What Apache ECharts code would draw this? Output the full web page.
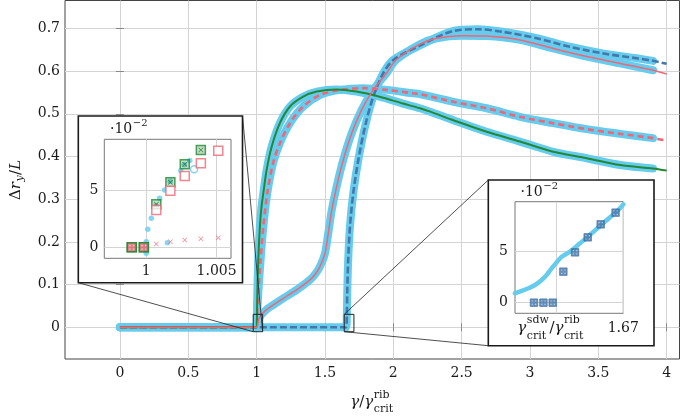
<!DOCTYPE html>
<html><head><meta charset="utf-8">
<script src="https://cdn.jsdelivr.net/npm/echarts@6.0.0/dist/echarts.min.js"></script>
<style>html,body{margin:0;padding:0;background:#fff;}#chart{width:681px;height:418px;}</style>
</head><body><div id="chart"></div>
<script>
// ---------- tick values ----------
const xTickValues = [0, 0.5, 1, 1.5, 2, 2.5, 3, 3.5, 4];
const yTickValues = [0, 0.1, 0.2, 0.3, 0.4, 0.5, 0.6, 0.7];
const leftInsetXTicks = [1, 1.005];
const leftInsetYTicks = [0, 5];
const sdwRatio = 1.6623;
const rightInsetXTicks = [sdwRatio, 1.67];
const rightInsetXLabels = [1.67];
const rightInsetYTicks = [0, 5];

// ---------- main curves [x, y] ----------
const greenCurve = [[0,0],[1.0,0],[1.003,0.04],[1.005,0.078],[1.012,0.158],[1.024,0.236],[1.035,0.28],[1.049,0.314],[1.073,0.368],[1.11,0.423],[1.17,0.478],[1.244,0.517],[1.341,0.54],[1.44,0.552],[1.585,0.557],[1.73,0.552],[1.9,0.54],[2.07,0.524],[2.195,0.513],[2.27,0.505],[2.44,0.485],[2.683,0.458],[2.927,0.435],[3.17,0.411],[3.415,0.396],[3.66,0.38],[3.9,0.372],[4.0,0.367]];
const redDashedCurve = [[0,0],[1.0,0],[1.005,0.04],[1.012,0.08],[1.029,0.158],[1.049,0.236],[1.078,0.314],[1.12,0.384],[1.17,0.431],[1.244,0.478],[1.34,0.517],[1.463,0.544],[1.61,0.556],[1.78,0.56],[1.95,0.556],[2.146,0.548],[2.195,0.546],[2.44,0.528],[2.683,0.513],[2.927,0.493],[3.17,0.478],[3.415,0.464],[3.66,0.453],[3.9,0.443],[4.0,0.437]];
const redSolidCurve = [[0,0],[1.0,0],[1.01,0.012],[1.024,0.025],[1.06,0.038],[1.1,0.048],[1.195,0.068],[1.29,0.087],[1.39,0.111],[1.43,0.125],[1.463,0.142],[1.5,0.173],[1.524,0.22],[1.55,0.275],[1.585,0.329],[1.634,0.392],[1.695,0.454],[1.768,0.509],[1.853,0.556],[1.95,0.595],[2.02,0.626],[2.195,0.663],[2.317,0.677],[2.5,0.683],[2.683,0.682],[2.927,0.673],[3.17,0.653],[3.415,0.634],[3.66,0.618],[3.9,0.602],[4.0,0.593]];
const blueCurve = [[0,0],[1.0,0],[1.655,0],[1.66,0.03],[1.663,0.08],[1.67,0.158],[1.683,0.236],[1.707,0.314],[1.744,0.392],[1.793,0.47],[1.853,0.54],[1.927,0.595],[2.0,0.626],[2.195,0.66],[2.44,0.694],[2.62,0.698],[2.8,0.692],[3.05,0.677],[3.29,0.657],[3.54,0.641],[3.78,0.63],[3.9,0.624],[4.0,0.617]];
const simulationEnd = 3.9;

// ---------- left inset (units of 1e-2) ----------
const leftSimDots = [[1.0,-0.52],[1.0,-0.24],[1.0,0.2],[1.0,0.49],[1.00011,1.57],[1.00036,2.53],[1.0007,3.6],[1.00095,4.28],[1.00131,5.0],[1.0017,5.75],[1.00245,6.68],[1.0027,7.2],[1.00309,7.56],[1.0015,0.4]];
const leftSimOpen = [[1.0034,6.8]];
const greenSquares = [[0.99897,0],[0.99983,0],[1.000714,3.75],[1.001714,5.67],[1.002736,7.24],[1.003879,8.49]];
const redFilledSquares = [[0.99897,0],[0.99983,0]];
const redOpenSquares = [[1.000714,3.25],[1.001714,4.94],[1.002736,6.22],[1.003879,7.33],[1.005114,8.43]];
const redCrosses = [[1.000714,0.29],[1.001714,0.49],[1.002736,0.64],[1.003879,0.75],[1.005114,0.84]];

// ---------- right inset (units of 1e-2) ----------
const rightSimCurve = [[1.6575,0.91],[1.65827,1.13],[1.65904,1.39],[1.65981,1.71],[1.66058,2.19],[1.66115,2.68],[1.66173,3.32],[1.66231,3.9],[1.66289,4.45],[1.66385,4.94],[1.665,5.74],[1.66635,6.71],[1.66789,7.84],[1.66943,8.97],[1.67,9.52]];
const blueSquares = [[1.65969,0],[1.66078,0],[1.66185,0],[1.66308,3.0],[1.66443,4.87],[1.66589,6.32],[1.66739,7.58],[1.66911,8.71]];

// ---------- zoom regions (main data coords) ----------
const spyLeft = {x:[0.975,1.044], y:[-0.0103,0.0304]};
const spyRight = {x:[1.641,1.712], y:[-0.0103,0.0304]};

// ---------- styles ----------
const FONTNAME = 'DejaVu Serif';
const FONT = '"DejaVu Serif", serif';
const CYAN = '#66CCEE', BLUE = '#4477AA', GREEN = '#228833', RED = '#EE6677';
const GRIDC = '#d4d4d4', TXT = '#1a1a1a';
const CROSS = 'path://M0,1 L1,0 L5,4 L9,0 L10,1 L6,5 L10,9 L9,10 L5,6 L1,10 L0,9 L4,5 Z';
const DOTS = 'path://M2,2h1.6v1.6h-1.6z M6.4,2h1.6v1.6h-1.6z M2,6.4h1.6v1.6h-1.6z M6.4,6.4h1.6v1.6h-1.6z';
const SMOOTH = 0.3;

const chart = echarts.init(document.getElementById('chart'), null, {renderer:'canvas'});

function valueAxis(o) {
  return Object.assign({type:'value', axisLine:{show:false},
    splitLine:{show:true, lineStyle:{color:GRIDC, width:1}}}, o);
}
const mainTick = vals => ({show:true, inside:true, length:4, lineStyle:{color:'#888'}, customValues:vals});

const option = {
  animation:false,
  backgroundColor:'#fff',
  grid:[
    {left:65, top:0.5, width:614.5, height:358.5, show:true, borderColor:'#444', borderWidth:1, z:0},
    {left:104.3, top:139.3, width:126.7, height:119, show:true, borderColor:'#777', borderWidth:1, z:7},
    {left:515, top:201.7, width:108.3, height:111.6, show:true, borderColor:'#777', borderWidth:1, z:7}
  ],
  xAxis:[
    valueAxis({gridIndex:0, min:-0.402, max:4.094, splitNumber:9, axisTick:mainTick(xTickValues),
      axisLabel:{customValues:xTickValues, fontFamily:FONT, fontSize:14, color:TXT, margin:7}}),
    valueAxis({gridIndex:1, min:0.99702, max:1.00602, z:7,
      axisTick:{show:false, customValues:leftInsetXTicks},
      axisLabel:{customValues:leftInsetXTicks, fontFamily:FONT, fontSize:14, color:TXT, margin:6,
        formatter:v=>String(v)}}),
    valueAxis({gridIndex:2, min:1.6575, max:1.670, z:7,
      axisTick:{show:false, customValues:rightInsetXTicks},
      axisLabel:{customValues:rightInsetXLabels, fontFamily:FONT, fontSize:14, color:TXT, margin:8,
        formatter:v=>String(v)}}),
    // mirrored ticks on top edge
    {type:'value', gridIndex:0, position:'top', min:-0.402, max:4.094, splitNumber:9,
      axisLine:{show:false}, splitLine:{show:false}, axisLabel:{show:false}, axisTick:mainTick(xTickValues)}
  ],
  yAxis:[
    valueAxis({gridIndex:0, min:-0.0742, max:0.7653, splitNumber:8, axisTick:mainTick(yTickValues),
      axisLabel:{customValues:yTickValues, fontFamily:FONT, fontSize:14, color:TXT, margin:5}}),
    valueAxis({gridIndex:1, min:-0.96, max:9.42, z:7,
      axisTick:{show:false, customValues:leftInsetYTicks},
      axisLabel:{customValues:leftInsetYTicks, fontFamily:FONT, fontSize:14, color:TXT, margin:6}}),
    valueAxis({gridIndex:2, min:-1.03, max:9.77, z:7,
      axisTick:{show:false, customValues:rightInsetYTicks},
      axisLabel:{customValues:rightInsetYTicks, fontFamily:FONT, fontSize:14, color:TXT, margin:7}}),
    // mirrored ticks on right edge
    {type:'value', gridIndex:0, position:'right', min:-0.0742, max:0.7653, splitNumber:8,
      axisLine:{show:false}, splitLine:{show:false}, axisLabel:{show:false}, axisTick:mainTick(yTickValues)}
  ],
  series:[]
};

// halos (simulation data) under the model curves
[greenCurve, redDashedCurve, redSolidCurve, blueCurve].forEach(c => {
  option.series.push({type:'line', xAxisIndex:0, yAxisIndex:0, symbol:'none', silent:true, z:2,
    smooth:SMOOTH,
    data:c.filter(p => p[0] <= simulationEnd),
    lineStyle:{color:CYAN, width:8, cap:'round', join:'round'}});
});
function modelLine(data, style) {
  return {type:'line', xAxisIndex:0, yAxisIndex:0, symbol:'none', silent:true, z:3,
    smooth:SMOOTH, data:data, lineStyle:style};
}
option.series.push(
  modelLine(blueCurve, {color:BLUE, width:2.6, type:[7,3]}),
  modelLine(redDashedCurve, {color:RED, width:2.6, type:[6,4]}),
  modelLine(greenCurve, {color:GREEN, width:2}),
  modelLine(redSolidCurve, {color:RED, width:1.5}),
  // left inset
  {type:'scatter', xAxisIndex:1, yAxisIndex:1, z:8, silent:true, data:leftSimDots, symbol:'circle', symbolSize:5.5,
    itemStyle:{color:CYAN}},
  {type:'scatter', xAxisIndex:1, yAxisIndex:1, z:8, silent:true, data:leftSimOpen, symbol:'circle', symbolSize:7,
    itemStyle:{color:'#fff', borderColor:CYAN, borderWidth:1.5}},
  {type:'scatter', xAxisIndex:1, yAxisIndex:1, z:9, silent:true, data:greenSquares, symbol:'rect', symbolSize:9,
    itemStyle:{color:'rgba(34,136,51,0.35)', borderColor:GREEN, borderWidth:1.5}},
  {type:'scatter', xAxisIndex:1, yAxisIndex:1, z:10, silent:true, data:greenSquares.filter(p=>p[1]>0), symbol:CROSS, symbolSize:5,
    itemStyle:{color:'#1f6b2a'}},
  {type:'scatter', xAxisIndex:1, yAxisIndex:1, z:10, silent:true, data:redFilledSquares, symbol:'rect', symbolSize:9,
    itemStyle:{color:RED, borderColor:GREEN, borderWidth:1.5}},
  {type:'scatter', xAxisIndex:1, yAxisIndex:1, z:11, silent:true, data:redFilledSquares, symbol:DOTS, symbolSize:5,
    itemStyle:{color:'rgba(255,255,255,0.75)'}},
  {type:'scatter', xAxisIndex:1, yAxisIndex:1, z:10, silent:true, data:redOpenSquares, symbol:'rect', symbolSize:9,
    itemStyle:{color:'#fff', borderColor:RED, borderWidth:1.5}},
  {type:'scatter', xAxisIndex:1, yAxisIndex:1, z:10, silent:true, data:redCrosses, symbol:CROSS, symbolSize:5,
    itemStyle:{color:RED}},
  // right inset
  {type:'line', xAxisIndex:2, yAxisIndex:2, symbol:'none', silent:true, z:8, data:rightSimCurve,
    smooth:0.3, lineStyle:{color:CYAN, width:4.5, cap:'round'}},
  {type:'scatter', xAxisIndex:2, yAxisIndex:2, z:9, silent:true, data:blueSquares, symbol:'rect', symbolSize:7.5,
    itemStyle:{color:BLUE, borderColor:'#3a6a9c', borderWidth:0.8}},
  {type:'scatter', xAxisIndex:2, yAxisIndex:2, z:10, silent:true, data:blueSquares, symbol:DOTS, symbolSize:4.5,
    itemStyle:{color:'rgba(255,255,255,0.7)'}}
);

chart.setOption(option);

// ---------- decorations: inset frames, spy boxes, connectors, math text ----------
const mctx = document.createElement('canvas').getContext('2d');
function fontStr(size, it) { return (it ? 'italic ' : '') + size + 'px "' + FONTNAME + '"'; }
function tw(s, size, it) { mctx.font = fontStr(size, it); return mctx.measureText(s).width; }
function txt(s, x, y, size, it) {
  return {type:'text', x:x, y:y, z:20, silent:true,
    style:{text:s, font:fontStr(size, it), fill:TXT, align:'left', verticalAlign:'middle',
      textAlign:'left', textVerticalAlign:'middle'}};
}
// pieces: {t, it, sup, sub, subIt}
function mathLabel(pieces, size, x, y, anchor, rot, supOff, subOff) {
  const small = Math.round(size * 0.72);
  let cx = 0; const kids = [];
  pieces.forEach(p => {
    if (p.t) { kids.push(txt(p.t, cx, 0, size, p.it)); cx += tw(p.t, size, p.it); }
    let w = 0;
    if (p.sup) { kids.push(txt(p.sup, cx + 0.5, -size * supOff, small, p.supIt)); w = Math.max(w, tw(p.sup, small, p.supIt)); }
    if (p.sub) { kids.push(txt(p.sub, cx + 0.5, size * subOff, small, p.subIt)); w = Math.max(w, tw(p.sub, small, p.subIt)); }
    if (w) cx += w + 1;
  });
  const shift = anchor === 'center' ? -cx / 2 : 0;
  kids.forEach(k => { k.x += shift; });
  return {type:'group', x:x, y:y, rotation:rot || 0, z:20, children:kids};
}

const px = (x, y) => chart.convertToPixel({gridIndex:0}, [x, y]);
function spyRect(s) {
  const a = px(s.x[0], s.y[1]), b = px(s.x[1], s.y[0]);
  return {x:a[0], y:a[1], w:b[0]-a[0], h:b[1]-a[1]};
}
const sL = spyRect(spyLeft), sR = spyRect(spyRight);
const boxL = {x:78.3, y:116, w:164.2, h:166.7};
const boxR = {x:488.3, y:180, w:165.7, h:165.7};
const line = (x1,y1,x2,y2) => ({type:'line', z:6, silent:true, shape:{x1,y1,x2,y2}, style:{stroke:'#222', lineWidth:0.8}});
const frame = (b, z, lw) => ({type:'rect', z:z, silent:true, shape:{x:b.x, y:b.y, width:b.w, height:b.h},
  style:{fill:'#fff', stroke:'#1a1a1a', lineWidth:lw}});

const elements = [
  frame(boxL, 5, 1.6), frame(boxR, 5, 1.6),
  {type:'rect', z:6, silent:true, shape:{x:sL.x, y:sL.y, width:sL.w, height:sL.h}, style:{fill:'none', stroke:'#222', lineWidth:1}},
  {type:'rect', z:6, silent:true, shape:{x:sR.x, y:sR.y, width:sR.w, height:sR.h}, style:{fill:'none', stroke:'#222', lineWidth:1}},
  line(boxL.x, boxL.y + boxL.h, sL.x, sL.y + sL.h),
  line(boxL.x + boxL.w, boxL.y, sL.x + sL.w, sL.y + sL.h),
  line(boxR.x, boxR.y, sR.x, sR.y),
  line(boxR.x, boxR.y + boxR.h, sR.x, sR.y + sR.h),
  // axis titles
  mathLabel([{t:'Δ'},{t:'r', it:true, sub:'y', subIt:true},{t:'/'},{t:'L', it:true}], 15, 16, 180, 'center', Math.PI/2, 0.45, 0.3),
  mathLabel([{t:'γ', it:true},{t:'/'},{t:'γ', it:true, sup:'rib', sub:'crit'}], 15, 372, 402, 'center', 0, 0.45, 0.45),
  // inset exponents
  mathLabel([{t:'·10', sup:'−2'}], 14, 110, 129.5, 'left', 0, 0.42, 0),
  mathLabel([{t:'·10', sup:'−2'}], 14, 520.5, 192.5, 'left', 0, 0.42, 0)
];
const sdwPx = chart.convertToPixel({gridIndex:2}, [sdwRatio, 0]);
elements.push(mathLabel([{t:'γ', it:true, sup:'sdw', sub:'crit'},{t:'/'},{t:'γ', it:true, sup:'rib', sub:'crit'}], 15, sdwPx[0] - 6, 328, 'center', 0, 0.5, 0.55));

chart.setOption({graphic:{elements:elements}});
</script>
</body></html>
